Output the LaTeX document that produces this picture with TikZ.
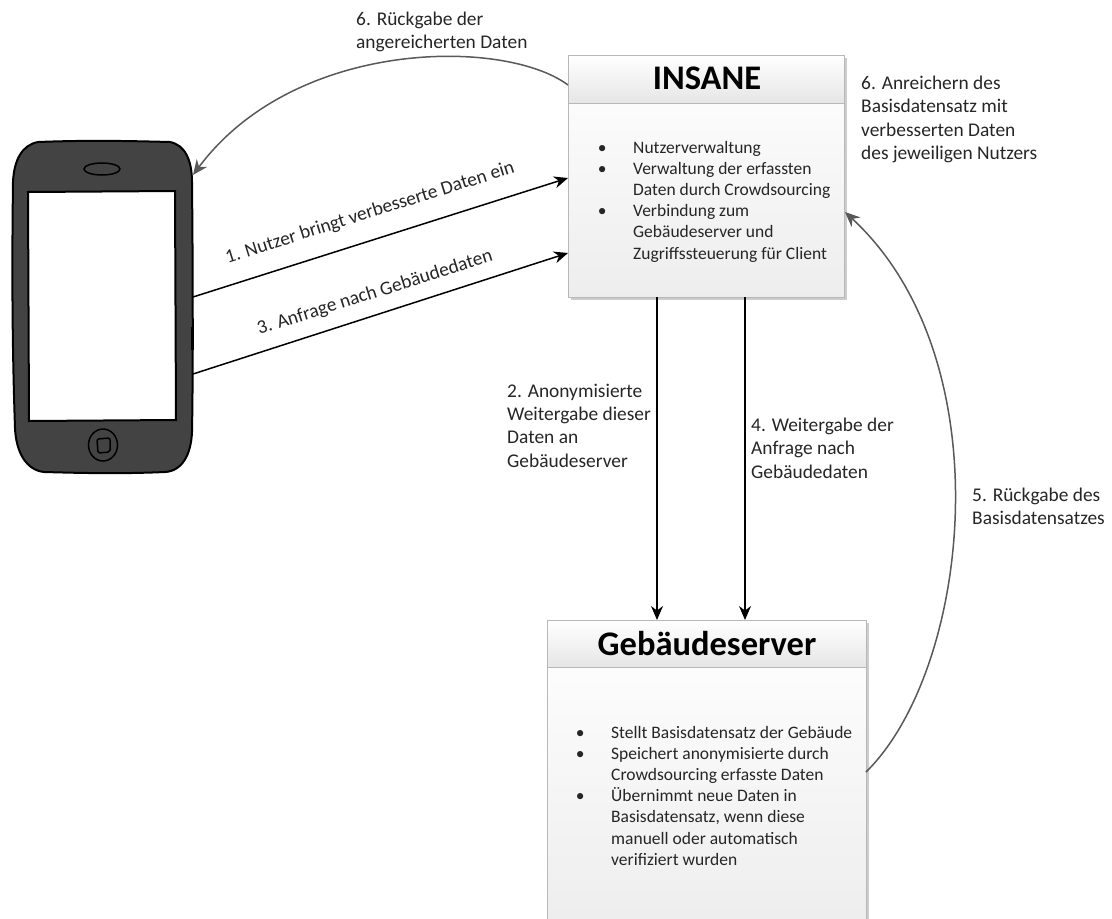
\documentclass[tikz,border=0pt]{standalone}
\usepackage{fontspec}
\setmainfont{Carlito}
\usetikzlibrary{arrows.meta,shadings,calc}
\definecolor{txt}{HTML}{262626}
\definecolor{phonefill}{HTML}{434343}
\definecolor{edgegray}{HTML}{B8B8B8}
\definecolor{curvegray}{HTML}{595959}
\newcommand{\bul}{\leavevmode\llap{\textbullet\hspace{26.5pt}}}
\tikzset{
  x=1pt,y=-1pt,
  lbl/.style={font=\fontsize{19.4}{23.2}\selectfont,text=txt,align=left,anchor=north west,inner sep=0pt},
  lst/.style={font=\fontsize{17.5}{21.15}\selectfont,text=txt,align=left,anchor=north west,inner sep=0pt},
  slant/.style={font=\fontsize{19.4}{23}\selectfont,text=txt,inner sep=0pt,rotate=17.5},
  title/.style={font=\fontsize{34.5}{38}\selectfont\bfseries,text=black,inner sep=0pt},
  boxbody/.style={draw=edgegray,line width=1pt,top color=white,bottom color=black!7,inner sep=0pt,anchor=north west},
  boxhead/.style={draw=edgegray,line width=1pt,top color=white,bottom color=black!10,inner sep=0pt,anchor=north west},
  shadowbox/.style={fill=black!20,draw=none},
  straight/.style={draw=black,line width=1.5pt,-{Stealth[length=14pt,width=12pt]}},
  bent/.style={draw=curvegray,line width=1.5pt,-{Stealth[length=15pt,width=13pt]}},
  phonebody/.style={draw=black,line width=2pt,fill=phonefill,line join=round},
  phonepart/.style={draw=black,line width=1.5pt},
}
\begin{document}
\begin{tikzpicture}
\useasboundingbox (0,0) rectangle (1112,919);
\clip (0,0) rectangle (1112,919);
\fill[white] (0,0) rectangle (1112,919);

% phone
\draw[phonebody] (38,142) .. controls (90,140) and (130,141) .. (170,142)
  .. controls (185,145) and (192,160) .. (192,182)
  .. controls (193,280) and (193,380) .. (192,432)
  .. controls (191,455) and (182,471) .. (165,472)
  .. controls (120,474) and (80,473) .. (44,472)
  .. controls (26,470) and (16,452) .. (15,428)
  .. controls (12,340) and (12,260) .. (13,182)
  .. controls (14,160) and (22,145) .. (38,142) -- cycle;
\draw[black,line width=2.5pt] (192.5,327) -- (192.5,350);
\draw[black,line width=2pt,fill=white] (28,192) -- (175,191) -- (176,420) -- (29,421) -- cycle;
\draw[phonepart,fill=phonefill] (102,169) ellipse [x radius=18,y radius=6];
\draw[phonepart] (103,445) ellipse [x radius=14.5,y radius=16];
\draw[phonepart,rounded corners=2pt] (97,439) -- (110,438) -- (110,452) -- (98,453) -- cycle;
\coordinate (phoneA) at (193,297);
\coordinate (phoneB) at (193,374);
\coordinate (phoneC) at (193,175);

% INSANE box
\fill[shadowbox] (571,58) rectangle (847,300);
\node[boxbody,minimum width=276pt,minimum height=242pt] (insane) at (568,55) {};
\node[boxhead,minimum width=276pt,minimum height=48pt] (insanehead) at (568,55) {};
\node[title] (insanetitle) at (707,78) {INSANE};
\node[lst] (insanelist) at (633,141) {\bul Nutzerverwaltung\\\bul Verwaltung der erfassten\\Daten durch Crowdsourcing\\\bul Verbindung zum\\Gebäudeserver und\\Zugriffssteuerung für Client};

% Gebaeudeserver box
\fill[shadowbox] (550,623) rectangle (869,930);
\node[boxbody,minimum width=319pt,minimum height=310pt] (server) at (547,620) {};
\node[boxhead,minimum width=319pt,minimum height=47pt] (serverhead) at (547,620) {};
\node[title] (servertitle) at (707,644) {Gebäudeserver};
\node[lst] (serverlist) at (611,726) {\bul Stellt Basisdatensatz der Gebäude\\\bul Speichert anonymisierte durch\\Crowdsourcing erfasste Daten\\\bul Übernimmt neue Daten in\\Basisdatensatz, wenn diese\\manuell oder automatisch\\verifiziert wurden};

% connector ends
\coordinate (inA) at (568,178);
\coordinate (inB) at (568,253);
\coordinate (inC) at (568,85);
\coordinate (inD) at (845,212);
\coordinate (s1) at (657,297);
\coordinate (s2) at (745,297);
\coordinate (t1) at (657,620);
\coordinate (t2) at (745,620);
\coordinate (sv) at (866,772);

\draw[straight] (phoneA) -- (inA);
\draw[straight] (phoneB) -- (inB);
\draw[straight] (s1) -- (t1);
\draw[straight] (s2) -- (t2);
\draw[bent] (inC) .. controls (505,38) and (295,38) .. (phoneC);
\draw[bent] (sv) .. controls (970,670) and (1005,360) .. (inD);

% labels
\node[slant] (l1) at (370,213) {1. Nutzer bringt verbesserte Daten ein};
\node[slant] (l3) at (375,293) {3. Anfrage nach Gebäudedaten};
\node[lbl] (l6a) at (356,12) {6. Rückgabe der\\angereicherten Daten};
\node[lbl] (l6b) at (861,76) {6. Anreichern des\\Basisdatensatz mit\\verbesserten Daten\\des jeweiligen Nutzers};
\node[lbl] (l2) at (507,384) {2. Anonymisierte\\Weitergabe dieser\\Daten an\\Gebäudeserver};
\node[lbl] (l4) at (751,418) {4. Weitergabe der\\Anfrage nach\\Gebäudedaten};
\node[lbl] (l5) at (972,488) {5. Rückgabe des\\Basisdatensatzes};
\end{tikzpicture}
\end{document}
